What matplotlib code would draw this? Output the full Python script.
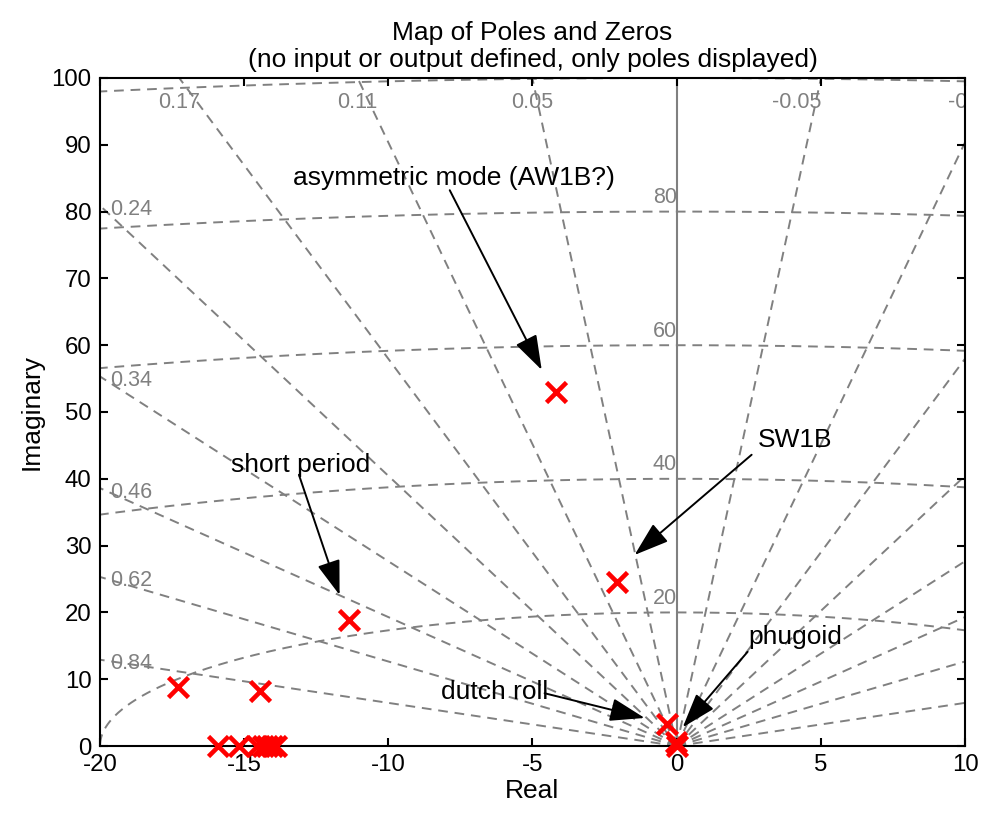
"""pole map with s-plane damping / frequency grid"""

import numpy as np
import matplotlib.pyplot as plt

plt.rcParams['font.family'] = ['Liberation Sans', 'DejaVu Sans']
plt.rcParams['axes.unicode_minus'] = False

# == data ==
pole_re = [-4.2, -2.08, -11.38, -17.3, -14.45, -0.35, -0.02, 0.0,
           -15.92, -15.18, -14.55, -14.35, -14.2, -14.05, -13.9]
pole_im = [53.0, 24.6, 18.9, 8.8, 8.2, 3.3, 0.6, 0.0,
           0.0, 0.0, 0.0, 0.0, 0.0, 0.0, 0.0]

zetas = [0.05, 0.11, 0.17, 0.24, 0.34, 0.46, 0.62, 0.84]
wns = [20, 40, 60, 80, 100]

notes = ['asymmetric mode (AW1B?)', 'SW1B', 'short period', 'dutch roll', 'phugoid']
note_text_xy = [(-7.73, 85.0), (4.09, 45.8), (-13.04, 42.1), (-6.31, 8.1), (4.13, 16.3)]
note_tail_xy = [(-7.87, 83.2), (2.6, 43.6), (-13.1, 40.6), (-4.58, 7.9), (2.46, 14.1)]
note_head_xy = [(-4.68, 56.3), (-1.46, 28.6), (-11.69, 22.6), (-1.11, 4.2), (0.21, 2.8)]

xlim = (-20, 10)
ylim = (0, 100)
grey = '#808080'
dash = (0, (5, 3.5))

# == figure ==
fig = plt.figure(figsize=(9.82, 8.19), dpi=100)
ax = fig.add_axes([0.1018, 0.0891, 0.8809, 0.8157])

# damping rays (both half planes)
R = 300
for z in zetas + [-z for z in zetas]:
    ax.plot([0, -z * R], [0, np.sqrt(1 - z**2) * R], ls=dash, color=grey, lw=1.4, zorder=1)
ax.plot([-R, R], [0, 0], ls=dash, color=grey, lw=1.4, zorder=1)

# natural frequency arcs
th = np.linspace(0, np.pi, 600)
for w in wns:
    ax.plot(w * np.cos(th), w * np.sin(th), ls=dash, color=grey, lw=1.4, zorder=1)
    if w < ylim[1]:
        ax.text(0, w + 0.5, str(w), color=grey, fontsize=15.5, ha='right', va='bottom')

# imaginary axis
ax.axvline(0, color=grey, lw=1.5, zorder=1)

# damping labels
for z in zetas:
    k = np.sqrt(1 - z**2) / z
    xt = -ylim[1] / k
    if xt > xlim[0]:
        ax.text(xt, 96.4, '%g' % z, color=grey, fontsize=15.5, ha='center', va='center')
    else:
        ax.text(xlim[0] + 0.35, -xlim[0] * k - 0.6, '%g' % z, color=grey,
                fontsize=15.5, ha='left', va='center')
    # mirror side: right aligned at the crossing, clipped by the box
    if -xt < xlim[1] + 2:
        ax.text(-xt, 96.4, '%g' % -z, color=grey, fontsize=15.5,
                ha='right', va='center', clip_on=True)

# poles
ax.plot(pole_re, pole_im, 'x', color='red', ms=14, mew=3.3, clip_on=False, zorder=5)

# annotations
for txt, pt, tail, head in zip(notes, note_text_xy, note_tail_xy, note_head_xy):
    ax.text(pt[0], pt[1], txt, fontsize=19, ha='center', va='center', zorder=6)
    ax.annotate('', xy=head, xytext=tail,
                arrowprops=dict(arrowstyle='-|>,head_length=0.72,head_width=0.24',
                                color='k', lw=1.4, mutation_scale=30,
                                shrinkA=0, shrinkB=0), zorder=6)

ax.set_xlim(*xlim)
ax.set_ylim(*ylim)
ax.set_xticks(np.arange(-20, 11, 5))
ax.set_yticks(np.arange(0, 101, 10))
ax.tick_params(direction='in', length=6, width=1.5, top=True, right=True, labelsize=17.3, pad=6)
for s in ax.spines.values():
    s.set_linewidth(1.5)
    s.set_zorder(4)

ax.set_xlabel('Real', fontsize=19, labelpad=2)
ax.set_ylabel('Imaginary', fontsize=19, labelpad=6)
ax.set_title('Map of Poles and Zeros\n(no input or output defined, only poles displayed)',
             fontsize=19, linespacing=1.15, pad=8)

fig.savefig('out.png', dpi=100)
